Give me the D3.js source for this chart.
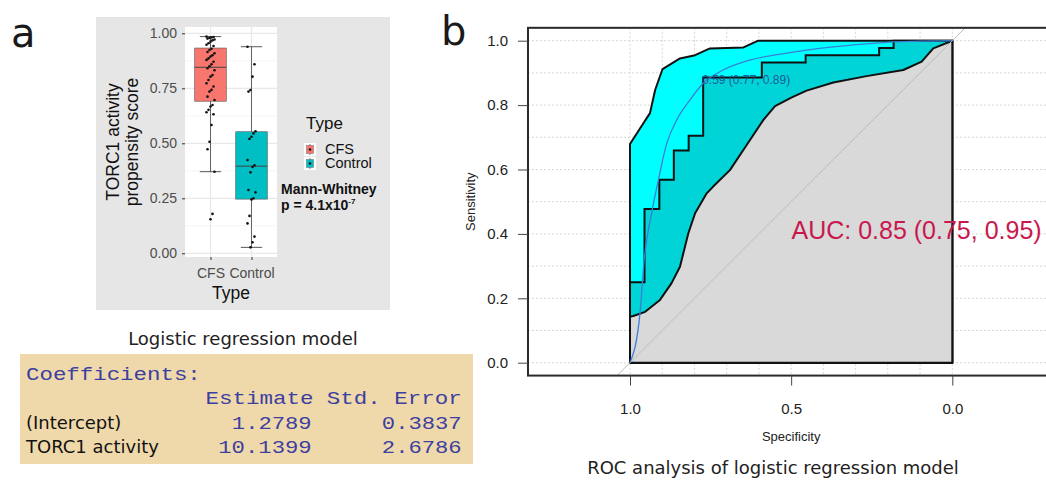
<!DOCTYPE html>
<html>
<head>
<meta charset="utf-8">
<script src="https://cdn.jsdelivr.net/npm/d3@7"></script>
<style>
  body { margin: 0; background: #fff; }
  svg { display: block; }
</style>
</head>
<body>
<script>
// ---- panel a: puntajes por tipo ----
var tipos = ["CFS", "Control"];
var coloresTipo = ["#f8766d", "#00bfc4"];
var puntajeCFS = [0.985, 0.983, 0.981, 0.979, 0.976, 0.972, 0.968, 0.962, 0.955, 0.948, 0.942,
  0.930, 0.924, 0.915, 0.909, 0.900, 0.894, 0.886, 0.879, 0.871, 0.859, 0.850,
  0.841, 0.832, 0.810, 0.803, 0.788, 0.773, 0.758, 0.743, 0.735, 0.712, 0.697,
  0.674, 0.667, 0.652, 0.641, 0.632, 0.583, 0.507, 0.473, 0.371, 0.179, 0.155];
var puntajeControl = [0.939, 0.859, 0.803, 0.742, 0.735, 0.555, 0.545, 0.530, 0.520, 0.424,
  0.400, 0.392, 0.368, 0.288, 0.277, 0.250, 0.245, 0.170, 0.136, 0.076, 0.050, 0.027];
var ticksA = [0, 0.25, 0.5, 0.75, 1];

// ---- tabla de coeficientes ----
var coefFilas = ["(Intercept)", "TORC1 activity"];
var coefEstimate = ["1.2789", "10.1399"];
var coefError = ["0.3837", "2.6786"];

// ---- panel b: curva ROC ----
var rocEsp = [1, 1, 0.955, 0.955, 0.909, 0.909, 0.864, 0.864, 0.818, 0.818, 0.773, 0.773,
  0.591, 0.591, 0.455, 0.455, 0.227, 0.227, 0.182, 0.182, 0];
var rocSens = [0, 0.25, 0.25, 0.477, 0.477, 0.568, 0.568, 0.659, 0.659, 0.705, 0.705, 0.886,
  0.886, 0.932, 0.932, 0.955, 0.955, 0.977, 0.977, 1, 1];
var ciSupEsp = [1, 1, 0.959, 0.938, 0.922, 0.899, 0.845, 0.798, 0.752, 0.648, 0.602, 0];
var ciSupSens = [0, 0.679, 0.743, 0.775, 0.847, 0.912, 0.945, 0.955, 0.976, 0.979, 1, 1];
var ciInfEsp = [1, 1, 0.99, 0.953, 0.907, 0.871, 0.845, 0.819, 0.798, 0.762, 0.742, 0.69,
  0.638, 0.586, 0.55, 0.498, 0.452, 0.369, 0.266, 0.152, 0.095, 0.059, 0];
var ciInfSens = [0, 0.143, 0.145, 0.158, 0.195, 0.247, 0.298, 0.402, 0.464, 0.526, 0.547, 0.598,
  0.676, 0.754, 0.797, 0.824, 0.845, 0.87, 0.89, 0.909, 0.935, 0.976, 1];
var suaveEsp = [1, 0.969, 0.957, 0.933, 0.912, 0.886, 0.855, 0.814, 0.773, 0.711, 0.628, 0.524, 0.369, 0.214, 0];
var suaveSens = [0, 0.153, 0.309, 0.464, 0.567, 0.681, 0.754, 0.816, 0.868, 0.909, 0.94, 0.96, 0.981, 0.994, 1];
var umbral = {valor: "0.59", esp: 0.773, sens: 0.886};
var aucTexto = "AUC: 0.85 (0.75, 0.95)";
var ticksSens = [0, 0.2, 0.4, 0.6, 0.8, 1];
var ticksEsp = [1, 0.5, 0];
var gridPasos = [0, 0.1, 0.2, 0.3, 0.4, 0.5, 0.6, 0.7, 0.8, 0.9, 1];

var vis = {
  width: 1046,
  height: 486,
  fuenteR: "'Liberation Sans', Arial, sans-serif",
  fuenteGothic: "'DejaVu Sans', sans-serif",
  fuenteMono: "'Liberation Mono', 'Courier New', monospace"
};

var svg = d3.select("body").append("svg")
  .attr("width", vis.width)
  .attr("height", vis.height);

// letras de panel
svg.append("text").text("a")
  .attr("x", 11).attr("y", 47)
  .attr("font-family", vis.fuenteGothic)
  .attr("font-size", 40).attr("fill", "#1a1a1a");
svg.append("text").text("b")
  .attr("x", 441).attr("y", 45)
  .attr("font-family", vis.fuenteGothic)
  .attr("font-size", 40).attr("fill", "#1a1a1a");

// ================= PANEL A =================
var yA = d3.scaleLinear().domain([0, 1]).range([253.3, 33.3]);
var xA = d3.scalePoint().domain(tipos).range([185, 277]).padding(0.622);
var pasoA = xA.step();

svg.append("rect")
  .attr("x", 96).attr("y", 17).attr("width", 294).attr("height", 293)
  .attr("fill", "#e6e6e6");
svg.append("rect")
  .attr("x", 185).attr("y", 27).attr("width", 92).attr("height", 230)
  .attr("fill", "#ffffff");

var gridA = svg.append("g");
gridA.selectAll("line.menor")
  .data([0.125, 0.375, 0.625, 0.875])
  .enter().append("line")
  .attr("x1", 185).attr("x2", 277)
  .attr("y1", function(d) { return yA(d); })
  .attr("y2", function(d) { return yA(d); })
  .attr("stroke", "#f3f3f3").attr("stroke-width", 0.8);
gridA.selectAll("line.mayor")
  .data(ticksA)
  .enter().append("line")
  .attr("x1", 185).attr("x2", 277)
  .attr("y1", function(d) { return yA(d); })
  .attr("y2", function(d) { return yA(d); })
  .attr("stroke", "#e8e8e8").attr("stroke-width", 1.3);
gridA.selectAll("line.vert")
  .data(tipos)
  .enter().append("line")
  .attr("x1", function(d) { return xA(d); })
  .attr("x2", function(d) { return xA(d); })
  .attr("y1", 27).attr("y2", 257)
  .attr("stroke", "#e8e8e8").attr("stroke-width", 1.3);

// estadisticos de caja
var grupos = [puntajeCFS, puntajeControl].map(function(vals, i) {
  var s = vals.slice().sort(d3.ascending);
  var q1 = d3.quantile(s, 0.25), med = d3.quantile(s, 0.5), q3 = d3.quantile(s, 0.75);
  var iqr = q3 - q1;
  var dentro = s.filter(function(v) { return v >= q1 - 1.5 * iqr && v <= q3 + 1.5 * iqr; });
  return {tipo: tipos[i], color: coloresTipo[i], valores: vals,
          q1: q1, med: med, q3: q3, min: d3.min(dentro), max: d3.max(dentro)};
});

var cajas = svg.selectAll("g.caja").data(grupos).enter().append("g");
// barras de error (bigotes)
cajas.append("line")
  .attr("x1", function(d) { return xA(d.tipo); })
  .attr("x2", function(d) { return xA(d.tipo); })
  .attr("y1", function(d) { return yA(d.min); })
  .attr("y2", function(d) { return yA(d.max); })
  .attr("stroke", "#555").attr("stroke-width", 0.9);
cajas.selectAll("line.tapa")
  .data(function(d) { return [{t: d.tipo, v: d.min}, {t: d.tipo, v: d.max}]; })
  .enter().append("line")
  .attr("x1", function(d) { return xA(d.t) - pasoA * 0.26; })
  .attr("x2", function(d) { return xA(d.t) + pasoA * 0.26; })
  .attr("y1", function(d) { return yA(d.v); })
  .attr("y2", function(d) { return yA(d.v); })
  .attr("stroke", "#444").attr("stroke-width", 0.9);
cajas.append("rect")
  .attr("x", function(d) { return xA(d.tipo) - pasoA * 0.385; })
  .attr("width", pasoA * 0.77)
  .attr("y", function(d) { return yA(d.q3); })
  .attr("height", function(d) { return yA(d.q1) - yA(d.q3); })
  .attr("fill", function(d) { return d.color; })
  .attr("stroke", "#555").attr("stroke-width", 0.6);
cajas.append("line")
  .attr("x1", function(d) { return xA(d.tipo) - pasoA * 0.385; })
  .attr("x2", function(d) { return xA(d.tipo) + pasoA * 0.385; })
  .attr("y1", function(d) { return yA(d.med); })
  .attr("y2", function(d) { return yA(d.med); })
  .attr("stroke", "#444").attr("stroke-width", 1);

// puntos con "jitter" fijo
cajas.selectAll("circle")
  .data(function(d) { return d.valores.map(function(v) { return {t: d.tipo, v: v}; }); })
  .enter().append("circle")
  .attr("cx", function(d, i) { return xA(d.t) + ((i * 7) % 9 - 4) * 1.0; })
  .attr("cy", function(d) { return yA(d.v); })
  .attr("r", 1.3)
  .attr("fill", "#111");

// ejes panel a
var ejeYA = svg.append("g").attr("transform", "translate(185,0)")
  .call(d3.axisLeft(yA).tickValues(ticksA).tickFormat(d3.format(".2f")).tickSize(3).tickPadding(5));
var ejeXA = svg.append("g").attr("transform", "translate(0,257)")
  .call(d3.axisBottom(xA).tickSize(3).tickPadding(8));
[ejeYA, ejeXA].forEach(function(eje) {
  eje.select(".domain").remove();
  eje.selectAll("line").attr("stroke", "#333");
  eje.selectAll("text").attr("font-family", vis.fuenteR).attr("font-size", 14).attr("fill", "#4d4d4d");
});

svg.append("text")
  .attr("transform", "translate(119,142) rotate(-90)")
  .attr("text-anchor", "middle")
  .attr("font-family", vis.fuenteR).attr("font-size", 17.5).attr("fill", "#111")
  .text("TORC1 activity");
svg.append("text")
  .attr("transform", "translate(138,142) rotate(-90)")
  .attr("text-anchor", "middle")
  .attr("font-family", vis.fuenteR).attr("font-size", 17.5).attr("fill", "#111")
  .text("propensity score");
svg.append("text")
  .attr("x", 231).attr("y", 299)
  .attr("text-anchor", "middle")
  .attr("font-family", vis.fuenteR).attr("font-size", 17.5).attr("fill", "#111")
  .text("Type");

// leyenda
svg.append("text")
  .attr("x", 306).attr("y", 129)
  .attr("font-family", vis.fuenteR).attr("font-size", 17).attr("fill", "#111")
  .text("Type");
var leyenda = svg.selectAll("g.leyenda").data(grupos).enter().append("g")
  .attr("transform", function(d, i) { return "translate(304," + (143 + i * 14) + ")"; });
leyenda.append("rect")
  .attr("x", 0).attr("y", 0).attr("width", 12).attr("height", 13)
  .attr("fill", "#fff");
leyenda.append("line")
  .attr("x1", 6).attr("x2", 6).attr("y1", 1).attr("y2", 12)
  .attr("stroke", "#555").attr("stroke-width", 0.8);
leyenda.append("rect")
  .attr("x", 2.5).attr("y", 2.5).attr("width", 7).attr("height", 8)
  .attr("fill", function(d) { return d.color; })
  .attr("stroke", "#666").attr("stroke-width", 0.5);
leyenda.append("circle")
  .attr("cx", 6).attr("cy", 6.5).attr("r", 1.3).attr("fill", "#111");
leyenda.append("text")
  .attr("x", 21).attr("y", 11)
  .attr("font-family", vis.fuenteR).attr("font-size", 14.5).attr("fill", "#111")
  .text(function(d) { return d.tipo; });

// prueba de Mann-Whitney
svg.append("text")
  .attr("x", 281).attr("y", 194)
  .attr("font-family", vis.fuenteR).attr("font-weight", "bold").attr("font-size", 14).attr("fill", "#111")
  .text("Mann-Whitney");
var pTexto = svg.append("text")
  .attr("x", 281).attr("y", 210)
  .attr("font-family", vis.fuenteR).attr("font-weight", "bold").attr("font-size", 14).attr("fill", "#111");
pTexto.append("tspan").text("p = 4.1x10");
pTexto.append("tspan").attr("dy", -6).attr("font-size", 8).text("-7");

// ================= TABLA =================
svg.append("text")
  .attr("x", 243).attr("y", 345)
  .attr("text-anchor", "middle")
  .attr("font-family", vis.fuenteGothic)
  .attr("font-size", 18).attr("fill", "#222")
  .text("Logistic regression model");
svg.append("rect")
  .attr("x", 20).attr("y", 354).attr("width", 453).attr("height", 110)
  .attr("fill", "#efd9ab");

// texto monoespaciado estirado a lo ancho, como en la salida de R
var mono = {paso: 13.56, colEst: 311.7, colErr: 461.7, color: "#3d3fa0"};
function textoMono(txt, izquierda, y) {
  svg.append("text")
    .attr("x", izquierda)
    .attr("y", y)
    .attr("font-family", vis.fuenteMono).attr("font-size", 19)
    .attr("textLength", txt.length * mono.paso - 1.5)
    .attr("lengthAdjust", "spacingAndGlyphs")
    .attr("fill", mono.color)
    .text(txt);
}
function textoMonoDer(txt, derecha, y) {
  textoMono(txt, derecha - txt.length * mono.paso + 1.5, y);
}
textoMono("Coefficients:", 26, 380);
textoMonoDer("Estimate Std. Error", mono.colErr, 404);

svg.selectAll("text.fila").data(coefFilas).enter().append("text")
  .attr("x", 26)
  .attr("y", function(d, i) { return 428.5 + i * 24.5; })
  .attr("font-family", vis.fuenteGothic)
  .attr("font-size", 18).attr("fill", "#111")
  .text(function(d) { return d; });
coefEstimate.forEach(function(v, i) { textoMonoDer(v, mono.colEst, 428.5 + i * 24.5); });
coefError.forEach(function(v, i) { textoMonoDer(v, mono.colErr, 428.5 + i * 24.5); });

// ================= PANEL B =================
var xB = d3.scaleLinear().domain([1, 0]).range([630, 952.3]);
var yB = d3.scaleLinear().domain([0, 1]).range([362.7, 40.7]);
var caja = {x0: xB(1.3165), x1: xB(-0.3165), y0: yB(1.04), y1: yB(-0.04)};

svg.append("clipPath").attr("id", "recorte")
  .append("rect")
  .attr("x", caja.x0).attr("y", caja.y0)
  .attr("width", caja.x1 - caja.x0).attr("height", caja.y1 - caja.y0);

var gridB = svg.append("g").attr("clip-path", "url(#recorte)");
gridB.selectAll("line.h").data(gridPasos).enter().append("line")
  .attr("x1", caja.x0).attr("x2", caja.x1)
  .attr("y1", function(d) { return yB(d); })
  .attr("y2", function(d) { return yB(d); })
  .attr("stroke", "#d6d6d6").attr("stroke-width", 1).attr("stroke-dasharray", "2,2");
gridB.selectAll("line.v").data(gridPasos).enter().append("line")
  .attr("y1", caja.y0).attr("y2", caja.y1)
  .attr("x1", function(d) { return xB(d); })
  .attr("x2", function(d) { return xB(d); })
  .attr("stroke", "#d6d6d6").attr("stroke-width", 1).attr("stroke-dasharray", "2,2");

function puntos(esp, sens) {
  return esp.map(function(e, i) { return [xB(e), yB(sens[i])]; });
}
function areaBajo(esp, sens) {
  var p = puntos(esp, sens);
  p.push([xB(0), yB(0)]);
  return d3.line()(p) + "Z";
}

svg.append("path")
  .attr("d", areaBajo(ciSupEsp, ciSupSens))
  .attr("fill", "#00ffff").attr("stroke", "#111").attr("stroke-width", 2)
  .attr("stroke-linejoin", "round");
svg.append("path")
  .attr("d", areaBajo(rocEsp, rocSens))
  .attr("fill", "#00d4d6").attr("stroke", "#111").attr("stroke-width", 2);
svg.append("path")
  .attr("d", areaBajo(ciInfEsp, ciInfSens))
  .attr("fill", "#d9d9d9").attr("stroke", "#111").attr("stroke-width", 2)
  .attr("stroke-linejoin", "round");

// diagonal de referencia
svg.append("g").attr("clip-path", "url(#recorte)")
  .append("line")
  .attr("x1", xB(1.2)).attr("y1", yB(-0.2))
  .attr("x2", xB(-0.2)).attr("y2", yB(1.2))
  .attr("stroke", "#bdbdbd").attr("stroke-width", 1);

// curva suavizada
svg.append("path")
  .attr("d", d3.line().curve(d3.curveMonotoneX)(puntos(suaveEsp, suaveSens)))
  .attr("fill", "none").attr("stroke", "#3a7fd5").attr("stroke-width", 1.3);

svg.append("text")
  .attr("x", xB(umbral.esp) - 1).attr("y", yB(umbral.sens) + 7)
  .attr("font-family", vis.fuenteR).attr("font-size", 12)
  .attr("fill", "#25418f").attr("fill-opacity", 0.85)
  .text(umbral.valor + " (" + umbral.esp.toFixed(2) + ", " + umbral.sens.toFixed(2) + ")");

svg.append("text")
  .attr("x", 791.5).attr("y", 238.5)
  .attr("font-family", vis.fuenteR).attr("font-size", 25)
  .attr("fill", "#c8184e")
  .text(aucTexto);

svg.append("rect")
  .attr("x", caja.x0).attr("y", caja.y0)
  .attr("width", caja.x1 - caja.x0).attr("height", caja.y1 - caja.y0)
  .attr("fill", "none").attr("stroke", "#2a2a2a").attr("stroke-width", 2);

var ejeYB = svg.append("g").attr("transform", "translate(" + caja.x0 + ",0)")
  .call(d3.axisLeft(yB).tickValues(ticksSens).tickFormat(d3.format(".1f")).tickSize(10).tickPadding(10));
var ejeXB = svg.append("g").attr("transform", "translate(0," + caja.y1 + ")")
  .call(d3.axisBottom(xB).tickValues(ticksEsp).tickFormat(d3.format(".1f")).tickSize(10).tickPadding(18));
[ejeYB, ejeXB].forEach(function(eje) {
  eje.select(".domain").remove();
  eje.selectAll("line").attr("stroke", "#444");
  eje.selectAll("text").attr("font-family", vis.fuenteR).attr("font-size", 15).attr("fill", "#222");
});

svg.append("text")
  .attr("transform", "translate(474.5," + ((caja.y0 + caja.y1) / 2) + ") rotate(-90)")
  .attr("text-anchor", "middle")
  .attr("font-family", vis.fuenteR).attr("font-size", 13).attr("fill", "#222")
  .text("Sensitivity");
svg.append("text")
  .attr("x", (caja.x0 + caja.x1) / 2).attr("y", 441)
  .attr("text-anchor", "middle")
  .attr("font-family", vis.fuenteR).attr("font-size", 13).attr("fill", "#222")
  .text("Specificity");

svg.append("text")
  .attr("x", 773).attr("y", 474)
  .attr("text-anchor", "middle")
  .attr("font-family", vis.fuenteGothic)
  .attr("font-size", 18).attr("fill", "#222")
  .text("ROC analysis of logistic regression model");
</script>
</body>
</html>
